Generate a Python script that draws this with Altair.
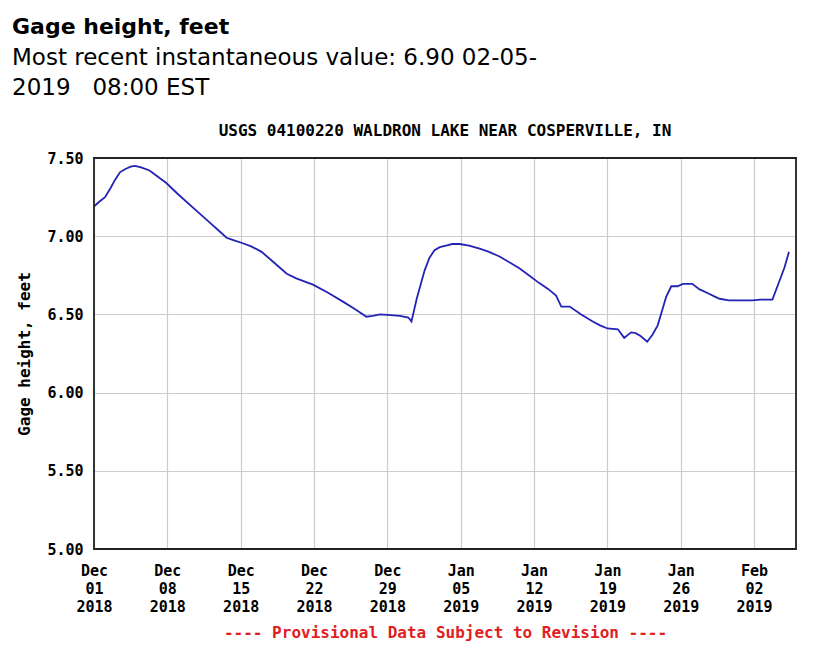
import altair as alt
import pandas as pd

# days since 2018-12-01 00:00 UTC, gage height in feet
days = [0.0, 0.5, 1.05, 1.6, 2.0, 2.5, 3.0, 3.5, 3.9, 4.5, 5.3, 6.0, 6.9, 8.0, 9.5,
        11.0, 12.0, 12.65, 13.3, 14.2, 15.0, 16.0, 17.2, 18.4, 19.3, 20.9, 22.3,
        23.8, 25.0, 26.0, 26.6, 27.3, 28.3, 29.2, 30.0, 30.3, 30.8, 31.55, 32.0,
        32.5, 33.0, 33.6, 34.2, 34.9, 35.8, 36.8, 37.7, 38.7, 39.6, 40.6, 41.5,
        42.5, 43.4, 44.1, 44.6, 45.4, 46.5, 47.6, 48.3, 49.0, 50.0, 50.6, 51.25,
        51.7, 52.2, 52.8, 53.3, 53.8, 54.2, 54.6, 55.1, 55.7, 56.2, 57.1, 57.8,
        58.6, 59.2, 59.7, 60.6, 61.5, 62.3, 62.85, 63.6, 64.2, 64.75, 65.4, 65.9,
        66.33]
levels = [7.19, 7.22, 7.25, 7.31, 7.36, 7.41, 7.43, 7.445, 7.45, 7.44, 7.42, 7.385,
          7.34, 7.27, 7.18, 7.09, 7.03, 6.99, 6.975, 6.955, 6.935, 6.90, 6.83, 6.76,
          6.73, 6.69, 6.64, 6.58, 6.53, 6.485, 6.49, 6.50, 6.495, 6.49, 6.48, 6.455,
          6.60, 6.78, 6.86, 6.91, 6.93, 6.94, 6.95, 6.95, 6.94, 6.92, 6.90, 6.87,
          6.835, 6.795, 6.75, 6.70, 6.66, 6.62, 6.55, 6.55, 6.50, 6.455, 6.43, 6.41,
          6.405, 6.35, 6.385, 6.38, 6.36, 6.325, 6.37, 6.43, 6.52, 6.61, 6.68, 6.68,
          6.695, 6.695, 6.66, 6.635, 6.615, 6.60, 6.59, 6.59, 6.59, 6.59, 6.595,
          6.595, 6.595, 6.71, 6.80, 6.90]

tick_dates = ["2018-12-01", "2018-12-08", "2018-12-15", "2018-12-22", "2018-12-29",
              "2019-01-05", "2019-01-12", "2019-01-19", "2019-01-26", "2019-02-02"]
y_ticks = [5.0, 5.5, 6.0, 6.5, 7.0, 7.5]

start = pd.Timestamp("2018-12-01T00:00:00Z")
times = [(start + pd.Timedelta(hours=d * 24)).strftime("%Y-%m-%dT%H:%M:%SZ") for d in days]
df = pd.DataFrame({"time": times, "level": levels})


def dt(s):
    t = pd.Timestamp(s)
    return alt.DateTime(year=t.year, month=t.month, date=t.day, utc=True)


MONO = "DejaVu Sans Mono"
W, H = 702, 391
NB = "\u00a0"

x_enc = alt.X(
    "time:T",
    scale=alt.Scale(type="utc", domain=[dt("2018-12-01"), dt("2019-02-06")]),
    axis=alt.Axis(
        values=[dt(s) for s in tick_dates],
        labelExpr="[utcFormat(datum.value, '%b'), utcFormat(datum.value, '%d'), utcFormat(datum.value, '%Y')]",
        labelFont=MONO, labelFontWeight="bold", labelFontSize=15, labelColor="#000",
        labelLineHeight=18, labelPadding=14, labelAngle=0, labelAlign="center",
        labelOverlap=False, labelFlush=False,
        ticks=False, domain=False,
        gridColor="#cccccc", gridWidth=1.2,
        title="---- Provisional Data Subject to Revision ----",
        titleFont=MONO, titleFontWeight="bold", titleFontSize=16, titleColor="#e0201e",
        titlePadding=10,
    ),
)
y_enc = alt.Y(
    "level:Q",
    scale=alt.Scale(domain=[5.0, 7.5], nice=False, zero=False),
    axis=alt.Axis(
        values=y_ticks, format=".2f",
        labelFont=MONO, labelFontWeight="bold", labelFontSize=15, labelColor="#000",
        labelPadding=11, ticks=False, domain=False,
        gridColor="#cccccc", gridWidth=1.2,
        title="Gage height, feet",
        titleFont=MONO, titleFontWeight="bold", titleFontSize=16, titleColor="#000",
        titlePadding=14,
    ),
)

line = alt.Chart(df).mark_line(color="#2323b5", strokeWidth=1.8, interpolate="linear").encode(
    x=x_enc, y=y_enc
)

frame = alt.Chart(pd.DataFrame({"f": [0]})).mark_rect(
    fillOpacity=0, stroke="#222", strokeWidth=1.8
).encode(x=alt.value(0), x2=alt.value(W), y=alt.value(0), y2=alt.value(H))

site = alt.Chart(pd.DataFrame({"t": ["USGS 04100220 WALDRON LAKE NEAR COSPERVILLE, IN"]})).mark_text(
    font=MONO, fontWeight="bold", fontSize=16, color="#000", align="center", baseline="bottom"
).encode(text="t:N", x=alt.value(W / 2), y=alt.value(-19))

chart = (line + frame + site).properties(
    width=W, height=H,
    title=alt.TitleParams(
        text="Gage height, feet",
        subtitle=["Most recent instantaneous value: 6.90 02-05-", "2019" + NB * 3 + "08:00 EST"],
        anchor="start", frame="group", dx=-82, offset=22,
        font="DejaVu Sans", fontSize=22, fontWeight="bold", color="#000",
        subtitleFont="DejaVu Sans", subtitleFontSize=23, subtitleColor="#000",
        subtitleLineHeight=30, subtitlePadding=8,
    ),
    autosize=alt.AutoSizeParams(type="none"),
    padding={"left": 86, "top": 150, "right": 10, "bottom": 100},
).configure_view(stroke=None).configure(background="white")

chart.save("out.html", embed_options={"renderer": "svg", "actions": False})
